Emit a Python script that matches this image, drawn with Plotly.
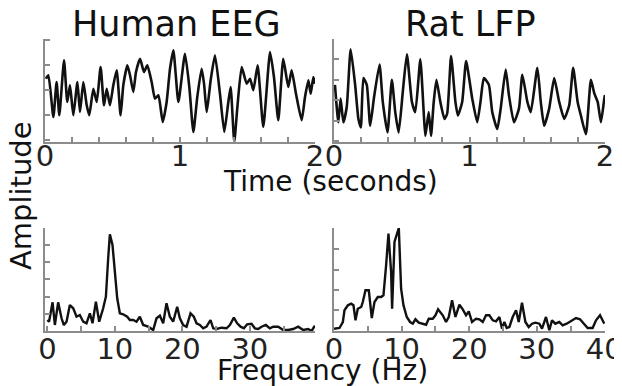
import plotly.graph_objects as go

# ---------------- data ----------------
eeg_t = [0.007, 0.025, 0.062, 0.086, 0.106, 0.141, 0.165, 0.185, 0.210, 0.240, 0.259, 0.284,
         0.309, 0.328, 0.358, 0.383, 0.412, 0.437, 0.457, 0.481, 0.506, 0.531, 0.560, 0.580,
         0.610, 0.630, 0.654, 0.674, 0.704, 0.733, 0.758, 0.790, 0.815, 0.840, 0.872, 0.901,
         0.926, 0.951, 0.988, 1.037, 1.069, 1.099, 1.128, 1.160, 1.178, 1.198, 1.227, 1.259,
         1.296, 1.328, 1.358, 1.375, 1.402, 1.425, 1.457, 1.494, 1.519, 1.543, 1.575, 1.617,
         1.667, 1.696, 1.728, 1.765, 1.802, 1.827, 1.859, 1.901, 1.926, 1.951, 1.968, 1.988, 2.000]
eeg_v = [63.3, 66.7, 25.0, 60.0, 26.7, 81.7, 40.0, 56.7, 26.7, 60.0, 30.0, 60.0,
         36.7, 26.7, 53.3, 40.0, 75.0, 36.7, 53.3, 36.7, 56.7, 71.7, 26.7, 56.7,
         76.7, 66.7, 50.0, 70.0, 83.3, 70.0, 76.7, 60.0, 43.3, 46.7, 20.0, 40.0,
         73.3, 91.7, 40.0, 88.3, 55.0, 10.0, 45.0, 73.3, 58.3, 30.0, 61.7, 86.7,
         48.3, 10.0, 40.0, 55.0, 0.0, 35.0, 75.0, 58.3, 63.3, 51.7, 76.7, 15.0,
         90.0, 65.0, 21.7, 83.3, 55.0, 71.7, 48.3, 21.7, 45.0, 61.7, 48.3, 65.0, 58.3]

lfp_t = [0.007, 0.032, 0.049, 0.069, 0.094, 0.123, 0.156, 0.180, 0.198, 0.217, 0.242, 0.267,
         0.296, 0.336, 0.360, 0.395, 0.427, 0.452, 0.477, 0.509, 0.538, 0.575, 0.600, 0.637,
         0.662, 0.674, 0.699, 0.716, 0.736, 0.756, 0.785, 0.815, 0.835, 0.864, 0.896, 0.914,
         0.946, 0.975, 1.020, 1.057, 1.081, 1.106, 1.143, 1.168, 1.205, 1.230, 1.267, 1.291,
         1.328, 1.365, 1.390, 1.427, 1.452, 1.501, 1.526, 1.551, 1.588, 1.625, 1.662, 1.699,
         1.736, 1.765, 1.798, 1.822, 1.859, 1.896, 1.921, 1.946, 1.970, 1.995, 2.000]
lfp_v = [56.0, 19.3, 42.7, 19.3, 34.3, 91.0, 56.0, 22.7, 14.3, 62.7, 56.0, 16.0,
         44.3, 76.0, 39.3, 9.3, 61.0, 29.3, 9.3, 51.0, 86.0, 39.3, 29.3, 81.0,
         29.3, 6.0, 29.3, 6.0, 39.3, 61.0, 39.3, 22.7, 27.7, 84.3, 39.3, 26.0,
         39.3, 79.3, 42.7, 19.3, 39.3, 62.7, 56.0, 29.3, 12.7, 32.7, 71.0, 46.0,
         19.3, 32.7, 66.0, 39.3, 29.3, 72.7, 39.3, 16.0, 32.7, 62.7, 39.3, 22.7,
         36.0, 72.7, 39.3, 26.0, 7.7, 61.0, 47.7, 39.3, 19.3, 42.7, 46.0]

eeg_f = [0.0, 0.25, 0.77, 1.11, 1.60, 2.10, 2.44, 2.84, 3.33, 3.83, 4.32, 4.81, 5.31, 5.80,
         6.30, 6.69, 7.19, 7.68, 8.27, 8.67, 9.01, 9.26, 9.65, 10.0, 10.35, 10.74, 11.23,
         11.83, 12.22, 12.72, 13.21, 13.70, 14.20, 14.94, 15.68, 16.17, 16.67, 17.16, 17.65,
         18.15, 18.64, 19.23, 19.63, 20.12, 20.62, 21.21, 21.70, 22.10, 22.59, 23.09, 23.58,
         24.17, 24.57, 25.06, 25.80, 26.54, 27.04, 27.63, 28.12, 28.62, 29.11, 29.60, 30.25,
         30.74, 31.23, 31.73, 32.37, 32.96, 33.46, 34.20, 34.94, 35.68, 36.42, 37.16, 37.90,
         38.64, 39.14, 39.63]
eeg_p = [11.0, 9.3, 28.7, 6.0, 28.7, 12.7, 6.0, 9.3, 26.0, 22.7, 14.3, 16.0, 9.3, 7.7,
         17.7, 7.7, 29.3, 9.3, 22.7, 34.3, 72.7, 96.7, 86.0, 56.0, 32.7, 17.7, 16.7,
         14.3, 11.0, 11.0, 9.3, 14.3, 6.0, 4.3, 1.0, 12.7, 15.3, 7.7, 27.7,
         14.3, 9.3, 24.3, 12.7, 6.0, 4.3, 17.7, 14.3, 7.7, 6.0, 2.7, 4.3,
         11.0, 2.7, 2.0, 3.3, 2.7, 6.0, 13.3, 7.7, 4.3, 2.7, 6.7, 7.3,
         2.7, 2.0, 4.3, 6.0, 2.7, 4.3, 4.3, 1.0, 1.0, 2.0, 4.3, 1.0,
         2.0, 0.0, 5.3]

lfp_f = [0.0, 0.81, 1.31, 1.55, 2.05, 2.54, 2.88, 3.18, 3.52, 4.02, 4.26, 4.66, 5.15, 5.59,
         5.99, 6.48, 6.97, 7.32, 7.71, 8.06, 8.45, 8.60, 8.95, 9.59, 9.93, 10.28, 10.77,
         11.26, 11.66, 12.05, 12.54, 13.14, 13.63, 14.02, 14.61, 15.01, 15.40, 16.09, 16.58,
         16.98, 17.47, 17.97, 18.56, 19.05, 19.54, 19.94, 20.43, 21.02, 21.51, 22.01, 22.50,
         22.99, 23.49, 23.98, 24.47, 24.87, 25.21, 25.56, 25.95, 26.44, 26.94, 27.33, 27.82,
         28.32, 28.81, 29.30, 29.80, 30.39, 30.78, 31.37, 31.86, 32.26, 32.75, 33.34, 33.83,
         34.43, 35.07, 35.81, 36.40, 37.04, 37.53, 38.27, 38.77, 39.36, 40.0]
lfp_p = [2.3, 3.0, 9.0, 20.7, 25.7, 27.3, 25.7, 10.7, 22.3, 24.0, 29.0, 40.7, 40.7, 13.0,
         29.0, 34.0, 34.0, 35.7, 65.7, 97.3, 59.0, 22.3, 89.0, 103.0, 42.3, 25.7, 14.0,
         9.0, 7.3, 11.7, 8.3, 7.3, 6.3, 12.3, 12.3, 15.7, 21.7, 15.7, 9.0,
         14.0, 30.7, 14.0, 26.3, 21.7, 15.7, 19.7, 9.0, 12.3, 11.7, 9.0, 15.7,
         15.7, 10.7, 9.7, 14.0, 2.3, 9.0, 3.0, 4.0, 14.0, 20.7, 9.0, 28.3,
         9.0, 4.0, 7.3, 8.3, 7.3, 2.3, 14.0, 0.7, 10.7, 7.3, 9.0, 5.7,
         7.3, 9.7, 13.0, 11.7, 7.3, 3.0, 3.0, 10.7, 15.7, 7.3]

titles = ["Human EEG", "Rat LFP"]
time_ticks = [0, 1, 2]
eeg_freq_ticks = [0, 10, 20, 30]
lfp_freq_ticks = [0, 10, 20, 30, 40]

# ---------------- figure ----------------
# the page body has an 8px margin; the figure is sized and laid out so that it fits the window
OFF = 8
W, H = 622 - OFF, 386 - OFF
FONT = "DejaVu Sans"
AX = "#8c8c8c"
TS_LINE = dict(color="#111111", width=2.6, shape="spline", smoothing=0.5)
SP_LINE = dict(color="#111111", width=2.4)


def fx(p):
    return (p - OFF) / W


def fy(p):
    return 1 - (p - OFF) / H


def px_x(a, b):
    return [fx(a), fx(b)]


def px_y(top, bottom):
    return [fy(bottom), fy(top)]


fig = go.Figure()
fig.add_trace(go.Scatter(x=eeg_t, y=eeg_v, mode="lines", line=TS_LINE, xaxis="x", yaxis="y"))
fig.add_trace(go.Scatter(x=lfp_t, y=lfp_v, mode="lines", line=TS_LINE, xaxis="x2", yaxis="y2"))
fig.add_trace(go.Scatter(x=eeg_f, y=eeg_p, mode="lines", line=SP_LINE, xaxis="x3", yaxis="y3"))
fig.add_trace(go.Scatter(x=lfp_f, y=lfp_p, mode="lines", line=SP_LINE, xaxis="x4", yaxis="y4"))


def xax(domain, anchor, rng, ticks, minor, standoff):
    return dict(domain=domain, anchor=anchor, range=rng, tickmode="array", tickvals=ticks,
                ticktext=[str(t) for t in ticks], ticks="inside", ticklen=5, tickwidth=1.5,
                tickcolor=AX, showline=True, linecolor=AX, linewidth=2, showgrid=False,
                zeroline=False, automargin=False, ticklabelstandoff=standoff,
                ticklabeloverflow="allow",
                tickfont=dict(family=FONT, size=29, color="#222222"),
                minor=dict(dtick=minor, tick0=0, ticks="inside", ticklen=5, tickwidth=1.5,
                           tickcolor=AX, showgrid=False),
                fixedrange=True)


def yax(domain, anchor, rng, tick0, dtick):
    return dict(domain=domain, anchor=anchor, range=rng, tick0=tick0, dtick=dtick,
                ticks="inside", ticklen=5, tickwidth=1.5, tickcolor=AX, showticklabels=False,
                showline=True, linecolor=AX, linewidth=2, showgrid=False, zeroline=False,
                automargin=False, fixedrange=True)


top = px_y(39, 142)
bot = px_y(228, 331)
left = px_x(45, 315)
right = px_x(334, 605)

fig.update_layout(
    width=W, height=H, margin=dict(l=0, r=0, t=0, b=0, autoexpand=False),
    paper_bgcolor="white", plot_bgcolor="white", showlegend=False,
    xaxis=xax(left, "y", [0, 2], time_ticks, 0.2, -13),
    yaxis=yax(top, "x", [0, 103], 1.7, 25),
    xaxis2=xax(right, "y2", [0, 2], time_ticks, 0.2, -13),
    yaxis2=yax(top, "x2", [0, 101], 1, 20),
    xaxis3=xax(left, "y3", [-0.35, 39.65], eeg_freq_ticks, 5, -9),
    yaxis3=yax(bot, "x3", [0, 103], 0, 17.2),
    xaxis4=xax(right, "y4", [0, 40.1], lfp_freq_ticks, 5, -9),
    yaxis4=yax(bot, "x4", [0, 103], 0.5, 20.3),
)

txt = dict(family=FONT, color="#111111")
fig.add_annotation(text=titles[0], x=fx(176), y=fy(24), xref="paper", yref="paper",
                   showarrow=False, xanchor="center", yanchor="middle", font=dict(size=35, **txt))
fig.add_annotation(text=titles[1], x=fx(470), y=fy(24), xref="paper", yref="paper",
                   showarrow=False, xanchor="center", yanchor="middle", font=dict(size=35, **txt))
fig.add_annotation(text="Time (seconds)", x=fx(330), y=fy(182), xref="paper", yref="paper",
                   showarrow=False, xanchor="center", yanchor="middle", font=dict(size=28, **txt))
fig.add_annotation(text="Frequency (Hz)", x=fx(322), y=fy(370), xref="paper", yref="paper",
                   showarrow=False, xanchor="center", yanchor="middle", font=dict(size=28, **txt))
fig.add_annotation(text="Amplitude", x=fx(21), y=fy(196), xref="paper", yref="paper",
                   showarrow=False, xanchor="center", yanchor="middle", textangle=-90,
                   font=dict(size=29, **txt))

fig.write_html("out.html")
